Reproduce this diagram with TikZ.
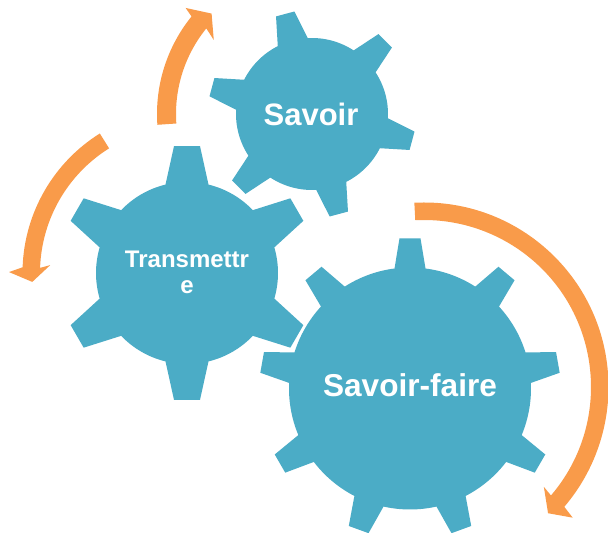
\documentclass[tikz,border=0pt]{standalone}
\usepackage{fontspec}
\setmainfont{Liberation Sans}
\definecolor{gearBlue}{HTML}{4BACC6}
\definecolor{arrowOrange}{HTML}{F99B4A}
\newcommand{\gearShape}[8]{
	\path[gearStyle, shift = {(#1,#2)}] ({#6-asin(#7/#3)}:#3)
		\foreach \i [evaluate = \i as \a using #6+(\i-1)*360/#5] in {1,...,#5} {
			-- ({\a-asin(#7/#3)}:#3) -- ({\a-asin(#8/#4)}:#4) -- ({\a+asin(#8/#4)}:#4) -- ({\a+asin(#7/#3)}:#3)
			arc[start angle = {\a+asin(#7/#3)}, end angle = {\a+360/#5-asin(#7/#3)}, radius = #3]
		} -- cycle;
}
\begin{document}
\begin{tikzpicture}[x = 1pt, y = 1pt]
	\tikzstyle{gearStyle} = [fill = gearBlue, preaction = {draw = white, line width = 5pt}]
	\tikzstyle{arrowStyle} = [fill = arrowOrange, draw = none]
	\tikzstyle{labelStyle} = [text = white, align = center, inner sep = 0pt]
	\useasboundingbox (0,0) rectangle (608,533);
	\gearShape{410}{144.5}{121}{150.5}{9}{90}{15.5}{10.5}
	\gearShape{312}{419}{76}{104}{6}{105}{15.5}{9.5}
	\gearShape{187}{260}{91}{127.5}{6}{90}{21.5}{13}
	\draw[arrowStyle, shift = {(312,419)}] (184:155) arc[start angle = 184, end angle = 141, radius = 155]
		-- (140:165) -- (135:142) -- (143:123) -- (141:136)
		arc[start angle = 141, end angle = 184, radius = 136] -- cycle;
	\draw[arrowStyle, shift = {(187,260)}] (122:164.5) arc[start angle = 122, end angle = 178, radius = 164.5]
		-- (179.7:178) -- (183.3:155) -- (176.7:137) -- (178:147)
		arc[start angle = 178, end angle = 122, radius = 147] -- cycle;
	\draw[arrowStyle, shift = {(424,146)}] (93:184.5) arc[start angle = 93, end angle = -40.5, radius = 184.5]
		-- (-41.3:198) -- (-45.5:177) -- (-39.8:156) -- (-40.5:167)
		arc[start angle = -40.5, end angle = 93, radius = 167] -- cycle;
	\node[labelStyle, font = \bfseries\fontsize{31}{36}\selectfont] (savoir) at (311,419) {Savoir};
	\node[labelStyle, font = \bfseries\fontsize{24}{26}\selectfont] (transmettre) at (187,261) {Transmettr\\e};
	\node[labelStyle, font = \bfseries\fontsize{31.6}{36}\selectfont] (savoirFaire) at (410,148) {Savoir-faire};
\end{tikzpicture}
\end{document}
